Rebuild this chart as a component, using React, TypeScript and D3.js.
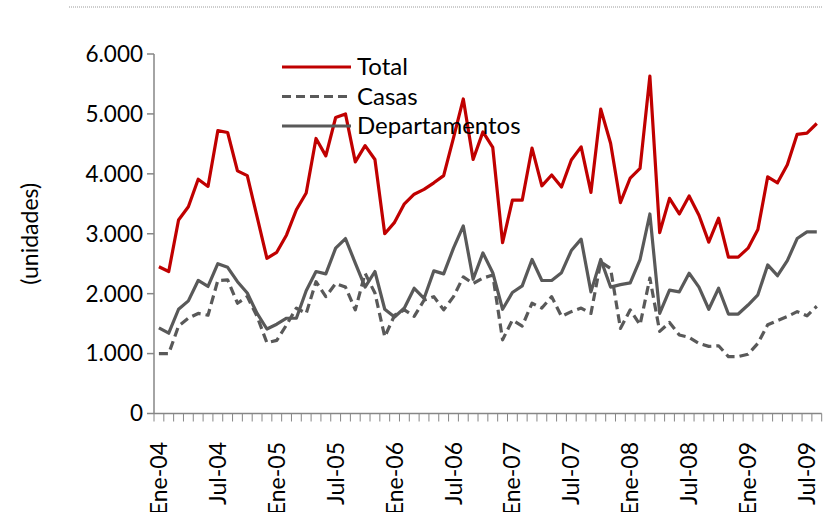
import React from 'react';
import * as d3 from 'd3';

// Monthly values (thousands of units), Ene-04 .. Ago-09
const total = [
  2.45, 2.37, 3.23, 3.45, 3.91, 3.79, 4.72, 4.69, 4.05, 3.97, 3.28, 2.59,
  2.69, 2.98, 3.40, 3.68, 4.59, 4.30, 4.94, 5.00, 4.20, 4.47, 4.24, 3.00,
  3.19, 3.50, 3.66, 3.74, 3.85, 3.97, 4.60, 5.25, 4.24, 4.70, 4.44, 2.85,
  3.56, 3.56, 4.43, 3.80, 3.98, 3.78, 4.23, 4.45, 3.69, 5.08, 4.51, 3.52,
  3.93, 4.09, 5.63, 3.02, 3.59, 3.33, 3.63, 3.31, 2.86, 3.26, 2.61, 2.61,
  2.76, 3.07, 3.95, 3.85, 4.15, 4.66, 4.68, 4.84,
];
const casas = [
  1.00, 1.00, 1.46, 1.59, 1.67, 1.64, 2.22, 2.23, 1.84, 1.95, 1.62, 1.18,
  1.22, 1.48, 1.76, 1.67, 2.20, 1.95, 2.17, 2.11, 1.73, 2.34, 2.01, 1.28,
  1.64, 1.73, 1.62, 1.89, 1.95, 1.73, 1.95, 2.28, 2.17, 2.26, 2.31, 1.23,
  1.56, 1.46, 1.84, 1.76, 1.95, 1.62, 1.70, 1.76, 1.67, 2.53, 2.42, 1.42,
  1.73, 1.48, 2.26, 1.37, 1.52, 1.31, 1.27, 1.17, 1.12, 1.13, 0.95, 0.95,
  0.99, 1.17, 1.48, 1.55, 1.62, 1.70, 1.63, 1.79,
];
const departamentos = [
  1.43, 1.34, 1.74, 1.88, 2.22, 2.12, 2.50, 2.44, 2.20, 2.01, 1.67, 1.41,
  1.49, 1.59, 1.59, 2.05, 2.37, 2.33, 2.76, 2.92, 2.51, 2.11, 2.37, 1.74,
  1.61, 1.76, 2.09, 1.92, 2.38, 2.33, 2.76, 3.13, 2.24, 2.68, 2.35, 1.74,
  2.02, 2.13, 2.57, 2.22, 2.22, 2.35, 2.72, 2.91, 2.03, 2.57, 2.11, 2.15,
  2.18, 2.57, 3.33, 1.67, 2.06, 2.03, 2.34, 2.11, 1.74, 2.09, 1.66, 1.66,
  1.81, 1.98, 2.48, 2.30, 2.55, 2.92, 3.03, 3.03,
];

const monthNames = ['Ene', 'Feb', 'Mar', 'Abr', 'May', 'Jun', 'Jul', 'Ago', 'Sep', 'Oct', 'Nov', 'Dic'];
const years = ['04', '05', '06', '07', '08', '09'];
const categories = years.flatMap((y) => monthNames.map((m) => `${m}-${y}`)).slice(0, total.length);

const yTicks = [0, 1000, 2000, 3000, 4000, 5000, 6000];

const series = [
  { name: 'Total', values: total, color: '#C00000', dash: null },
  { name: 'Casas', values: casas, color: '#595959', dash: '9,5' },
  { name: 'Departamentos', values: departamentos, color: '#595959', dash: null },
];

const W = 823;
const H = 512;
const FONT = 'Lato, sans-serif';

const App: React.FC = () => {
  const x = d3.scaleBand<number>()
    .domain(d3.range(categories.length))
    .range([154, 821.7])
    .paddingInner(0)
    .paddingOuter(0);
  const y = d3.scaleLinear().domain([0, 6000]).range([413.5, 54]);
  const fmt = d3.formatLocale({ decimal: ',', thousands: '.', grouping: [3], currency: ['$', ''] }).format(',');

  const line = d3.line<number>()
    .x((_, i) => (x(i) as number) + x.bandwidth() / 2)
    .y((d) => y(d * 1000));

  const boundaries = [...categories.map((_, i) => x(i) as number), x.range()[1]];

  return (
    <svg width={W} height={H} style={{ position: 'absolute', left: 0, top: 0, display: 'block' }}
      fontFamily={FONT}>
      <rect width={W} height={H} fill="#fff" />
      {/* dotted rule at the top */}
      <line x1={69} x2={W} y1={7} y2={7} stroke="#9a9a9a" strokeWidth={1} strokeDasharray="1,1" />

      {/* y axis */}
      <line x1={154} x2={154} y1={y(6000)} y2={y(0)} stroke="#868686" strokeWidth={1.5} />
      {yTicks.map((t) => (
        <g key={t}>
          <line x1={147} x2={154} y1={y(t)} y2={y(t)} stroke="#868686" strokeWidth={1.5} />
          <text x={143} y={y(t)} dy="0.35em" textAnchor="end" fontSize={22.5} fill="#000">{fmt(t)}</text>
        </g>
      ))}
      <text transform={`translate(30,${(y(0) + y(6000)) / 2}) rotate(-90)`} textAnchor="middle"
        dy="0.35em" fontSize={23} fill="#000">(unidades)</text>

      {/* x axis */}
      <line x1={154} x2={x.range()[1]} y1={y(0)} y2={y(0)} stroke="#868686" strokeWidth={1.5} />
      {boundaries.map((b, i) => (
        <line key={i} x1={b} x2={b} y1={y(0)} y2={y(0) + 8} stroke="#868686" strokeWidth={1} />
      ))}
      {categories.map((c, i) => i % 6 === 0 ? (
        <text key={c} transform={`translate(${(x(i) as number) + x.bandwidth() / 2},442) rotate(-90)`}
          textAnchor="end" dy="0.35em" fontSize={23} fill="#000">{c}</text>
      ) : null)}

      {/* lines */}
      {series.map((s) => (
        <path key={s.name} d={line(s.values) || ''} fill="none" stroke={s.color} strokeWidth={3.2}
          strokeDasharray={s.dash || undefined} strokeLinejoin="round" />
      ))}

      {/* legend */}
      {series.map((s, i) => (
        <g key={s.name} transform={`translate(0,${67 + i * 29.5})`}>
          <line x1={282} x2={351} y1={0} y2={0} stroke={s.color} strokeWidth={3.2}
            strokeDasharray={s.dash || undefined} />
          <text x={357} y={0} dy="0.35em" fontSize={24} fill="#000">{s.name}</text>
        </g>
      ))}
    </svg>
  );
};

export default App;
